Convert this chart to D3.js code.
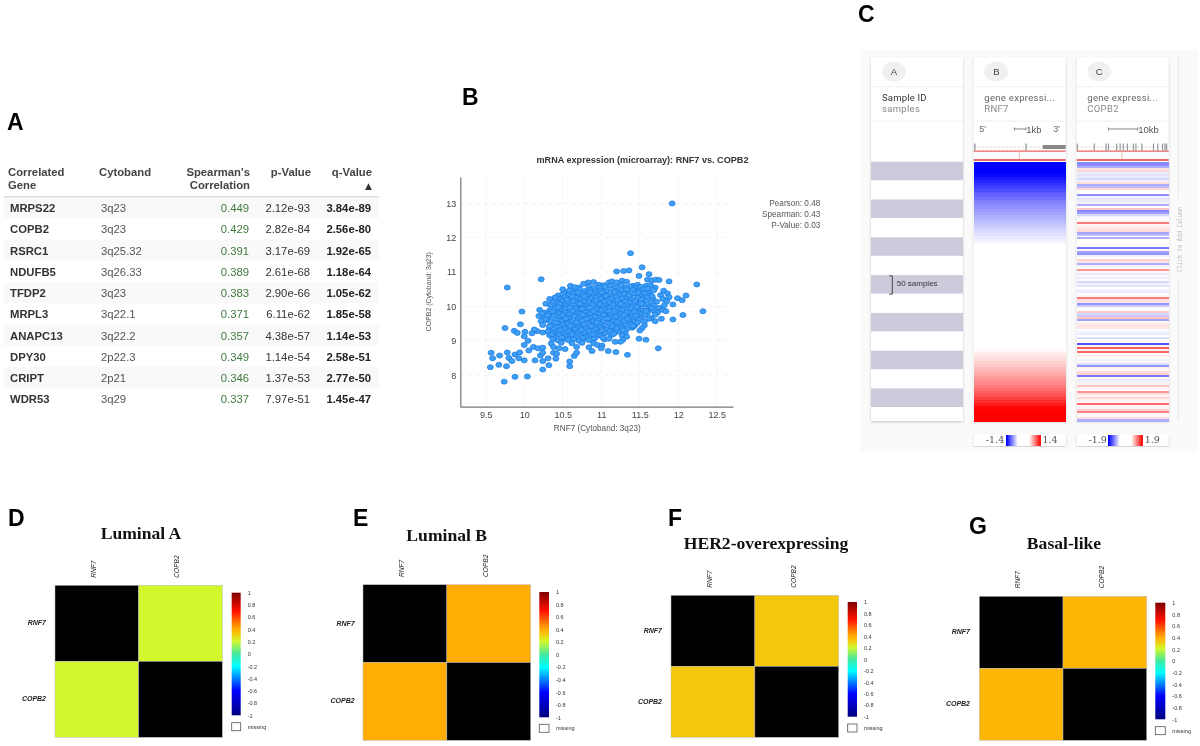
<!DOCTYPE html>
<html>
<head>
<meta charset="utf-8">
<script src="https://cdn.jsdelivr.net/npm/d3@7"></script>
<style>
  html, body { margin: 0; padding: 0; background: #fff; }
  svg { display: block; filter: blur(0.35px); }
  text { font-family: "Liberation Sans", Arial, sans-serif; }
</style>
</head>
<body>
<svg id="chart" width="1200" height="746"></svg>
<script>
// panel A table
const genes = ['MRPS22', 'COPB2', 'RSRC1', 'NDUFB5', 'TFDP2', 'MRPL3', 'ANAPC13', 'DPY30', 'CRIPT', 'WDR53'];
const cytobands = ['3q23', '3q23', '3q25.32', '3q26.33', '3q23', '3q22.1', '3q22.2', '2p22.3', '2p21', '3q29'];
const spearman = ['0.449', '0.429', '0.391', '0.389', '0.383', '0.371', '0.357', '0.349', '0.346', '0.337'];
const pValues = ['2.12e-93', '2.82e-84', '3.17e-69', '2.61e-68', '2.90e-66', '6.11e-62', '4.38e-57', '1.14e-54', '1.37e-53', '7.97e-51'];
const qValues = ['3.84e-89', '2.56e-80', '1.92e-65', '1.18e-64', '1.05e-62', '1.85e-58', '1.14e-53', '2.58e-51', '2.77e-50', '1.45e-47'];

// panel B scatter, RNF7 / COPB2
const stats = ['Pearson: 0.48', 'Spearman: 0.43', 'P-Value: 0.03'];
const xTicks = [9.5, 10, 10.5, 11, 11.5, 12, 12.5];
const yTicks = [8, 9, 10, 11, 12, 13];
const outlierPoints = [
  [11.92,13.0],[11.38,11.55],[11.53,11.14],[11.36,11.05],[11.29,11.03],[11.2,11.02],[11.62,10.94],[11.49,10.89],
  [10.22,10.79],[9.78,10.55],[12.24,10.64],[11.88,10.73],[12.1,10.32],[11.99,10.24],[12.05,10.18],[11.93,10.06],
  [12.32,9.86],[12.06,9.75],[11.93,9.62],[9.97,9.85],[9.95,9.48],[9.75,9.37],[9.87,9.29],[9.91,9.23],[10.01,9.26],
  [10.0,9.13],[10.05,9.0],[10.0,8.88],[10.06,8.72],[10.12,8.82],[9.57,8.65],[9.59,8.49],[9.68,8.57],[9.78,8.66],
  [9.56,8.23],[9.67,8.3],[9.77,8.26],[9.8,8.5],[9.84,8.41],[9.88,8.6],[9.94,8.66],[9.93,8.49],[10.0,8.43],[10.14,8.43],
  [9.88,7.95],[10.04,7.96],[9.74,7.81],[10.24,8.16],[10.32,8.29],[10.24,8.41],[10.31,8.49],[10.41,8.48],[10.59,8.26],
  [10.59,8.4],[10.65,8.56],[10.68,8.65],[10.21,8.57],[10.24,8.65],[10.38,8.65],[10.42,8.62],[10.18,8.78],[10.24,8.8],
  [10.38,8.82],[10.45,8.78],[10.53,8.76],[10.68,8.82],[10.84,8.81],[10.88,8.7],[11.0,8.78],[11.09,8.7],[11.19,8.67],
  [11.34,8.59],[11.74,8.78],[11.49,9.06],[11.58,9.03],[11.25,8.97],[11.18,8.97],[10.17,9.28],[10.1,9.22],[10.13,9.33],
  [10.19,9.72],[10.23,9.8],[10.28,10.08],[10.33,10.22],[10.5,10.5],[10.6,10.6],[10.66,10.56]
];
const densePoints = [
  [10.83,10.7],[10.9,10.71],[10.97,10.63],[11.03,10.62],[11.1,10.7],[11.14,10.73],[11.2,10.7],[11.27,10.75],[11.33,10.72],[11.41,10.6],[11.47,10.63],[11.6,10.78],[11.66,10.76],[11.71,10.78],[11.75,10.77],
  [10.71,10.55],[10.77,10.66],[10.84,10.58],[10.91,10.54],[10.98,10.55],[11.05,10.58],[11.12,10.6],[11.19,10.56],[11.26,10.62],[11.32,10.55],[11.38,10.58],[11.44,10.54],[11.51,10.57],[11.58,10.6],[11.64,10.62],[11.7,10.55],
  [10.53,10.42],[10.59,10.47],[10.66,10.44],[10.72,10.5],[10.79,10.45],[10.85,10.48],[10.92,10.43],[10.99,10.47],[11.06,10.44],[11.13,10.49],[11.2,10.45],[11.27,10.47],[11.34,10.42],[11.41,10.48],[11.48,10.45],[11.55,10.5],[11.62,10.44],[11.68,10.47],[11.81,10.46],
  [10.44,10.32],[10.5,10.36],[10.57,10.33],[10.63,10.38],[10.7,10.32],[10.76,10.36],[10.83,10.34],[10.89,10.37],[10.96,10.32],[11.03,10.36],[11.09,10.33],[11.16,10.38],[11.23,10.34],[11.3,10.36],[11.37,10.31],[11.44,10.37],[11.5,10.34],[11.57,10.38],[11.64,10.32],[11.77,10.33],[11.86,10.38],
  [10.4,10.26],[10.47,10.22],[10.53,10.27],[10.6,10.23],[10.67,10.26],[10.73,10.21],[10.8,10.26],[10.87,10.23],[10.93,10.27],[11.0,10.22],[11.07,10.25],[11.14,10.22],[11.2,10.27],[11.27,10.23],[11.34,10.26],[11.4,10.21],[11.47,10.26],[11.54,10.23],[11.6,10.27],[11.67,10.22],[11.8,10.22],[11.88,10.27],
  [10.37,10.15],[10.44,10.11],[10.5,10.16],[10.57,10.12],[10.64,10.15],[10.7,10.1],[10.77,10.15],[10.84,10.12],[10.91,10.16],[10.97,10.11],[11.04,10.14],[11.11,10.1],[11.18,10.16],[11.25,10.12],[11.31,10.15],[11.38,10.11],[11.44,10.15],[11.51,10.12],[11.58,10.16],[11.65,10.11],[11.72,10.14],[11.85,10.15],
  [10.34,10.04],[10.41,10.0],[10.48,10.05],[10.54,10.01],[10.61,10.04],[10.68,9.99],[10.75,10.04],[10.81,10.01],[10.88,10.05],[10.95,10.0],[11.01,10.03],[11.08,9.99],[11.15,10.05],[11.22,10.01],[11.28,10.04],[11.35,10.0],[11.42,10.04],[11.48,10.01],[11.55,10.05],[11.62,10.0],[11.68,10.03],[11.82,10.04],[11.75,9.96],
  [10.2,9.9],[10.33,9.89],[10.4,9.94],[10.47,9.9],[10.53,9.93],[10.6,9.88],[10.67,9.93],[10.73,9.9],[10.8,9.94],[10.87,9.89],[10.94,9.92],[11.0,9.88],[11.07,9.94],[11.14,9.9],[11.21,9.93],[11.27,9.89],[11.34,9.93],[11.41,9.9],[11.47,9.94],[11.54,9.89],[11.61,9.92],[11.68,9.88],[11.8,9.9],[11.84,9.86],
  [10.26,9.82],[10.33,9.78],[10.39,9.83],[10.46,9.79],[10.53,9.82],[10.59,9.77],[10.66,9.82],[10.73,9.79],[10.79,9.83],[10.86,9.78],[10.93,9.81],[10.99,9.77],[11.06,9.83],[11.13,9.79],[11.2,9.82],[11.26,9.78],[11.33,9.82],[11.4,9.79],[11.46,9.83],[11.53,9.78],[11.6,9.81],[11.73,9.82],
  [10.25,9.71],[10.31,9.67],[10.38,9.72],[10.45,9.68],[10.51,9.71],[10.58,9.66],[10.65,9.71],[10.71,9.68],[10.78,9.72],[10.85,9.67],[10.92,9.7],[10.98,9.66],[11.05,9.72],[11.12,9.68],[11.19,9.71],[11.25,9.67],[11.32,9.71],[11.39,9.68],[11.45,9.72],[11.52,9.67],[11.65,9.66],[11.78,9.64],
  [10.22,9.57],[10.29,9.6],[10.35,9.56],[10.42,9.61],[10.49,9.57],[10.55,9.6],[10.62,9.55],[10.69,9.6],[10.75,9.57],[10.82,9.61],[10.89,9.56],[10.96,9.59],[11.02,9.55],[11.09,9.61],[11.16,9.57],[11.23,9.6],[11.29,9.56],[11.36,9.6],[11.43,9.57],[11.49,9.61],[11.56,9.56],[11.7,9.57],
  [10.24,9.46],[10.37,9.45],[10.44,9.5],[10.5,9.46],[10.57,9.49],[10.64,9.44],[10.7,9.49],[10.77,9.46],[10.84,9.5],[10.91,9.45],[10.97,9.48],[11.04,9.44],[11.11,9.5],[11.17,9.46],[11.24,9.49],[11.31,9.45],[11.38,9.49],[11.44,9.46],[11.56,9.45],
  [10.33,9.38],[10.39,9.34],[10.46,9.39],[10.53,9.35],[10.59,9.38],[10.66,9.33],[10.73,9.38],[10.79,9.35],[10.86,9.39],[10.93,9.34],[11.0,9.37],[11.06,9.33],[11.13,9.39],[11.2,9.35],[11.27,9.38],[11.33,9.34],[11.4,9.38],[11.53,9.37],
  [10.24,9.24],[10.31,9.27],[10.38,9.23],[10.44,9.28],[10.51,9.24],[10.58,9.27],[10.64,9.22],[10.71,9.27],[10.78,9.24],[10.84,9.28],[10.91,9.23],[10.98,9.26],[11.05,9.22],[11.11,9.28],[11.18,9.24],[11.25,9.27],[11.31,9.23],[11.5,9.3],
  [10.33,9.16],[10.39,9.12],[10.46,9.17],[10.53,9.13],[10.6,9.16],[10.66,9.11],[10.73,9.16],[10.8,9.13],[10.86,9.17],[10.93,9.12],[11.0,9.15],[11.13,9.17],[11.27,9.16],[11.33,9.12],
  [10.37,9.05],[10.44,9.01],[10.51,9.06],[10.57,9.02],[10.64,9.05],[10.71,9.0],[10.77,9.05],[10.84,9.02],[10.91,9.06],[11.04,9.04],[11.1,9.06],[11.28,9.03],
  [10.35,8.92],[10.48,8.94],[10.62,8.93],[10.75,8.94],[10.9,8.93],[10.95,8.88],[11.01,8.86]
];
// middle of the cloud, where the dots overlap most
const corePoints = [
  [10.62,10.29],[10.78,10.3],[10.93,10.18],[11.06,10.31],[11.21,10.19],[11.36,10.33],[11.52,10.19],[11.66,10.3],
  [10.46,10.07],[10.59,9.97],[10.72,10.08],[10.85,9.96],[10.98,10.07],[11.11,9.96],[11.25,10.08],[11.39,9.96],[11.52,10.08],[11.65,9.96],
  [10.37,9.86],[10.5,9.75],[10.63,9.87],[10.76,9.76],[10.9,9.86],[11.03,9.75],[11.17,9.86],[11.3,9.75],[11.43,9.86],[11.57,9.75],
  [10.28,9.64],[10.41,9.53],[10.54,9.65],[10.68,9.54],[10.81,9.64],[10.94,9.53],[11.08,9.65],[11.21,9.54],[11.34,9.64],[11.47,9.53],
  [10.33,9.43],[10.47,9.31],[10.6,9.43],[10.74,9.32],[10.87,9.43],[11.01,9.31],[11.14,9.43],[11.28,9.31],[11.42,9.42],
  [10.36,9.19],[10.49,9.09],[10.62,9.19],[10.76,9.09],[10.89,9.19],[11.02,9.09],[11.16,9.2],
  [10.55,10.2],[10.7,10.41],[10.86,10.42],[11.01,10.41],[11.17,10.42],[11.33,10.5],[11.48,10.4],[11.6,10.52],
  [10.44,9.98],[10.3,9.74],[10.75,9.93],[11.1,9.87],[11.46,9.99],[11.58,9.87],[11.7,9.76],[11.62,9.64],[11.41,9.44]
];

// panel C heat columns, top row first
const rnf7Rows = [
  -1.4,-1.4,-1.4,-1.4,-1.35,-1.28,-1.2,-1.12,-1.05,-.98,-.9,-.84,-.78,-.7,-.65,-.6,-.55,-.5,-.45,-.4,-.35,-.3,-.25,-.2,-.16,-.12,-.08,-.03,
  0,0,0,0,0,0,0,0,0,0,0,0,0,0,0,0,0,0,0,0,0,0,0,0,0,0,0,0,0,0,0,0,0,0,0,
  .04,.1,.15,.2,.25,.3,.36,.42,.48,.54,.6,.66,.72,.8,.88,.96,1.05,1.14,1.25,1.36,1.4,1.4,1.4,1.4
];
const copb2Rows = [
  -.9,-.85,-.6,.2,.3,-.15,-.2,-.15,-.3,-.1,.25,-.6,-.5,.3,0,0,-.85,-.1,-.2,-.15,-.1,-.6,0,.45,-.9,-.7,-.3,-.1,0,.05,1.0,.1,
  .15,.2,.3,-.7,-.5,0,-.6,0,0,0,0,-1,.1,-.7,-.8,-.1,0,.35,.2,-.6,-.1,0,.8,.05,-.15,.05,-.15,0,-.3,-.1,-.2,0,
  -.1,-.15,0,.05,1.0,.25,.2,-.8,-.4,.05,0,.4,-.3,-.4,.45,-.7,.05,.15,.2,.2,0,-.1,-.15,0,-.25,0,.05,-1.3,.1,1.2,.15,1.1,
  .05,.15,0,-.1,.05,-.25,-.8,.1,.05,.25,.35,-1,.05,-.15,-.1,.1,.4,.1,0,.8,.2,.1,.3,.1,.05,1.1,.05,.1,.35,.9,.05,.05,.25,-.6
];
// exon positions along each gene, kb
const rnf7Exons = [[.05,.15],[4.5,4.6],[6.0,8.0]];
const copb2Exons = [.2,6.1,10.2,11,13.9,15.1,16.2,17.6,19.7,20.6,22.7,26.7,28.2,29.9,30.7,31.3];

// panels D-G, correlation of RNF7 and COPB2 per subtype
const subtypes = ['Luminal A', 'Luminal B', 'HER2-overexpressing', 'Basal-like'];
const subtypeCorr = [0.21, 0.41, 0.33, 0.37];
const heatLabels = ['RNF7', 'COPB2'];
const barTicks = [1, 0.8, 0.6, 0.4, 0.2, 0, -0.2, -0.4, -0.6, -0.8, -1];
const corrStops = [-1, -.6, -.2, 0, .21, .33, .37, .41, .7, 1];
const corrColors = ['#00007f', '#0000ff', '#00ffff', '#40e8a0', '#d2f72d', '#f4c70c', '#fdb603', '#ffac04', '#ff1000', '#7f0000'];

const svg = d3.select('#chart');
const defs = svg.append('defs');
defs.append('filter').attr('id', 'cardShadow').attr('x', '-5%').attr('y', '-5%').attr('width', '110%').attr('height', '110%')
  .append('feDropShadow').attr('dx', 0).attr('dy', 1).attr('stdDeviation', 1.2).attr('flood-color', '#000').attr('flood-opacity', 0.22);

// panel letters
const panelLetters = [['A', 7, 130], ['B', 462, 105], ['C', 858, 22], ['D', 8, 526], ['E', 353, 526], ['F', 668, 526], ['G', 969, 534]];
svg.selectAll('.letter').data(panelLetters).join('text').attr('class', 'letter')
  .attr('x', d => d[1]).attr('y', d => d[2]).text(d => d[0])
  .attr('font-size', 23).attr('font-weight', 'bold').attr('fill', '#000');

/* ---- A ---- */
const tableG = svg.append('g');
const rowY = d3.scaleBand().domain(genes).range([197, 409.6]);
tableG.selectAll('.stripe').data(genes.filter((d, i) => i % 2 === 0)).join('rect')
  .attr('x', 4).attr('width', 375).attr('y', d => rowY(d)).attr('height', rowY.bandwidth()).attr('fill', '#f9f9f9');
tableG.append('rect').attr('x', 4).attr('y', 196).attr('width', 375).attr('height', 1.5).attr('fill', '#dcdcdc');

const headers = [
  ['Correlated', 8, 176, 'start'], ['Gene', 8, 189, 'start'], ['Cytoband', 99, 176, 'start'],
  ["Spearman's", 250, 176, 'end'], ['Correlation', 250, 189, 'end'], ['p-Value', 311, 176, 'end'], ['q-Value', 372, 176, 'end']
];
tableG.selectAll('.head').data(headers).join('text')
  .attr('x', d => d[1]).attr('y', d => d[2]).attr('text-anchor', d => d[3]).text(d => d[0])
  .attr('font-size', 11.3).attr('font-weight', 'bold').attr('fill', '#444');
tableG.append('text').attr('x', 372).attr('y', 189).attr('text-anchor', 'end').text('▲')
  .attr('font-size', 9).attr('fill', '#333').style('font-family', 'DejaVu Sans');

const tableCols = [
  { vals: genes, x: 10, anchor: 'start', weight: 'bold', fill: '#333' },
  { vals: cytobands, x: 101, anchor: 'start', weight: 'normal', fill: '#555' },
  { vals: spearman, x: 249, anchor: 'end', weight: 'normal', fill: '#3f7a3f' },
  { vals: pValues, x: 310, anchor: 'end', weight: 'normal', fill: '#333' },
  { vals: qValues, x: 371, anchor: 'end', weight: 'bold', fill: '#222' }
];
tableCols.forEach(col => {
  tableG.selectAll(null).data(col.vals).join('text')
    .attr('x', col.x).attr('y', (d, i) => rowY(genes[i]) + 15)
    .attr('text-anchor', col.anchor).attr('font-weight', col.weight).attr('fill', col.fill)
    .attr('font-size', 11.3).text(d => d);
});

/* ---- B ---- */
const x = d3.scaleLinear().domain([9.17, 12.71]).range([460.3, 733]);
const y = d3.scaleLinear().domain([7.08, 13.77]).range([406.7, 177]);
const scatter = svg.append('g');
scatter.selectAll('.gx').data(xTicks).join('line')
  .attr('x1', d => x(d)).attr('x2', d => x(d)).attr('y1', 177).attr('y2', 406.7)
  .attr('stroke', '#f1f1f1').attr('stroke-dasharray', '4,4');
scatter.selectAll('.gy').data(yTicks).join('line')
  .attr('x1', 460.3).attr('x2', 733).attr('y1', d => y(d)).attr('y2', d => y(d))
  .attr('stroke', '#f1f1f1').attr('stroke-dasharray', '4,4');

scatter.append('g').attr('transform', 'translate(0,406.7)')
  .call(d3.axisBottom(x).tickValues(xTicks).tickSize(0).tickPadding(5).tickFormat(String))
  .call(g => g.select('.domain').attr('stroke', '#777').attr('stroke-width', 1.2))
  .call(g => g.selectAll('text').attr('font-size', 9).attr('fill', '#444').style('font-family', 'Liberation Sans'));
scatter.append('g').attr('transform', 'translate(460.3,0)')
  .call(d3.axisLeft(y).tickValues(yTicks).tickSize(0).tickPadding(4).tickFormat(String))
  .call(g => g.select('.domain').attr('stroke', '#777').attr('stroke-width', 1.2))
  .call(g => g.selectAll('text').attr('font-size', 9).attr('fill', '#444').style('font-family', 'Liberation Sans'));

scatter.selectAll('.dot').data(densePoints.concat(corePoints, outlierPoints)).join('ellipse')
  .attr('cx', d => x(d[0])).attr('cy', d => y(d[1])).attr('rx', 3).attr('ry', 2.5)
  .attr('fill', '#3f9ff5').attr('stroke', '#1c7ce4').attr('stroke-width', 0.8);

scatter.append('text').attr('x', 642.5).attr('y', 163.3).attr('text-anchor', 'middle')
  .attr('font-size', 9.1).attr('font-weight', 'bold').attr('fill', '#333')
  .text('mRNA expression (microarray): RNF7 vs. COPB2');
scatter.append('text').attr('x', 597.3).attr('y', 430.7).attr('text-anchor', 'middle')
  .attr('font-size', 8.2).attr('fill', '#555').text('RNF7 (Cytoband: 3q23)');
scatter.append('text').attr('transform', 'translate(430.7,291.7) rotate(-90)').attr('text-anchor', 'middle')
  .attr('font-size', 7.5).attr('textLength', 79).attr('lengthAdjust', 'spacingAndGlyphs').attr('fill', '#555').text('COPB2 (Cytoband: 3q23)');
scatter.selectAll('.stat').data(stats).join('text')
  .attr('x', 820.3).attr('y', (d, i) => 206 + i * 10.8).attr('text-anchor', 'end')
  .attr('font-size', 8.2).attr('fill', '#555').text(d => d);

/* ---- C ---- */
const browser = svg.append('g');
browser.append('rect').attr('x', 860).attr('y', 50).attr('width', 338).attr('height', 402).attr('fill', '#fafafa');
const cards = [
  { x: 871, letter: 'A', t1: 'Sample ID', t2: 'samples', cx: 894 },
  { x: 973.7, letter: 'B', t1: 'gene expressi...', t2: 'RNF7', cx: 996.3 },
  { x: 1076.7, letter: 'C', t1: 'gene expressi...', t2: 'COPB2', cx: 1099.3 }
];
const cardW = 92;
cards.forEach((c, i) => {
  browser.append('rect').attr('x', c.x).attr('y', 57.3).attr('width', cardW).attr('height', 363.7)
    .attr('fill', '#fff').attr('filter', 'url(#cardShadow)');
  browser.append('ellipse').attr('cx', c.cx).attr('cy', 71.7).attr('rx', 12).attr('ry', 10).attr('fill', '#f0f0f0');
  browser.append('text').attr('x', c.cx).attr('y', 75).attr('text-anchor', 'middle').attr('font-size', 9.5).attr('fill', '#444').text(c.letter);
  browser.append('rect').attr('x', c.x).attr('y', 86.2).attr('width', cardW).attr('height', 1).attr('fill', '#f0f0f0');
  browser.append('rect').attr('x', c.x).attr('y', 120.6).attr('width', cardW).attr('height', 1).attr('fill', '#f0f0f0');
  const tx = c.x + (i === 0 ? 11 : 10.6);
  browser.append('text').attr('x', tx).attr('y', 100.7).attr('font-size', 9.5).attr('letter-spacing', i ? 0.3 : 0.2)
    .attr('fill', i ? '#666' : '#333').style('font-family', 'Roboto').text(c.t1);
  browser.append('text').attr('x', tx).attr('y', 111.7).attr('font-size', 9.5).attr('letter-spacing', 0.3)
    .attr('fill', '#888').style('font-family', 'Roboto').text(c.t2);
});

// sample stripes in column A
const sampleY = d3.scaleLinear().domain([0, 50]).range([161.7, 180.6]);
const stripeStarts = [0, 100, 200, 300, 400, 500, 600];
browser.selectAll('.sampleStripe').data(stripeStarts).join('rect')
  .attr('x', 871).attr('width', cardW).attr('y', d => sampleY(d)).attr('height', sampleY(50) - sampleY(0) - .4).attr('fill', '#cccbdc');
browser.append('path').attr('d', 'M889.3,275.9H892.3V294.1H889.3').attr('fill', 'none').attr('stroke', '#444').attr('stroke-width', 1);
browser.append('text').attr('x', 896.7).attr('y', 286).attr('font-size', 8).attr('fill', '#333').text('50 samples');

// heat columns
function heatColumn(rows, colX, limit) {
  const rowBand = d3.scaleBand().domain(d3.range(rows.length)).range([161.7, 421]);
  const colour = d3.scaleLinear().domain([-limit, 0, limit]).range(['#0000ff', '#ffffff', '#ff0000']).clamp(true);
  browser.append('g').attr('shape-rendering', 'crispEdges').selectAll('rect').data(rows).join('rect')
    .attr('x', colX).attr('width', cardW).attr('y', (d, i) => rowBand(i)).attr('height', rowBand.bandwidth() + 1)
    .attr('fill', d => colour(d));
}
heatColumn(rnf7Rows, 973.7, 1.4);
heatColumn(copb2Rows, 1076.7, 1.9);

// gene tracks
function trackBase(colX, midX) {
  browser.append('line').attr('x1', colX).attr('x2', colX + cardW).attr('y1', 147).attr('y2', 147).attr('stroke', '#bbb').attr('stroke-dasharray', '2,2').attr('stroke-width', .7);
  browser.append('rect').attr('x', colX).attr('y', 150.6).attr('width', cardW).attr('height', 1).attr('fill', '#e23b3b');
  browser.append('rect').attr('x', midX - .4).attr('y', 151).attr('width', .8).attr('height', 8).attr('fill', '#f2a0a0');
  browser.append('rect').attr('x', colX).attr('y', 159).attr('width', cardW).attr('height', 2).attr('fill', '#e86a6a');
}
trackBase(973.7, 1019.3);
trackBase(1076.7, 1122);
const kbB = d3.scaleLinear().domain([0, 8]).range([973.7, 1065.7]);
const kbC = d3.scaleLinear().domain([0, 32]).range([1076.7, 1168.7]);
browser.selectAll('.exonB').data(rnf7Exons).join('rect')
  .attr('x', d => kbB(d[0])).attr('width', d => kbB(d[1]) - kbB(d[0]))
  .attr('y', d => d[1] - d[0] > 1 ? 145 : 143.5).attr('height', d => d[1] - d[0] > 1 ? 4 : 7).attr('fill', '#888');
browser.selectAll('.exonC').data(copb2Exons).join('line')
  .attr('x1', d => kbC(d)).attr('x2', d => kbC(d)).attr('y1', 143.5).attr('y2', 150.5)
  .attr('stroke', '#777').attr('stroke-width', 0.9);

browser.append('text').attr('x', 982.7).attr('y', 132).attr('text-anchor', 'middle').attr('font-size', 9).attr('fill', '#666').text("5'");
browser.append('text').attr('x', 1056.7).attr('y', 132).attr('text-anchor', 'middle').attr('font-size', 9).attr('fill', '#666').text("3'");
function scaleBar(x1, x2, label) {
  browser.append('path').attr('d', `M${x1},127.5V130.5M${x1},129H${x2}M${x2},127.5V130.5`).attr('stroke', '#666').attr('stroke-width', .8).attr('fill', 'none');
  browser.append('text').attr('x', x2 + .5).attr('y', 132.5).attr('font-size', 9.5).attr('fill', '#555').text(label);
}
scaleBar(kbB(3.54), kbB(4.53), '1kb');
scaleBar(kbC(11.1), kbC(21.2), '10kb');

// legends under the heat columns
function heatLegend(boxX, limit, gradX, gradW) {
  browser.append('rect').attr('x', boxX).attr('y', 434).attr('width', cardW).attr('height', 12).attr('fill', '#fff').attr('filter', 'url(#cardShadow)');
  const pos = d3.scaleLinear().domain([-limit, limit]).range([gradX, gradX + gradW]);
  const colour = d3.scaleLinear().domain([-limit, -limit / 3, limit / 3, limit]).range(['#0000ff', '#ffffff', '#ffffff', '#ff0000']);
  const steps = d3.range(-limit, limit, limit / 17);
  browser.append('g').attr('shape-rendering', 'crispEdges').selectAll('rect').data(steps).join('rect')
    .attr('x', d => pos(d)).attr('width', gradW / 34 + 1).attr('y', 434.5).attr('height', 11).attr('fill', d => colour(d));
  browser.append('text').attr('x', gradX - 1.5).attr('y', 442.5).attr('text-anchor', 'end').attr('font-size', 9.5)
    .attr('fill', '#555').style('font-family', 'DejaVu Serif').text('-' + limit.toFixed(1));
  browser.append('text').attr('x', gradX + gradW + 2.5).attr('y', 442.5).attr('font-size', 9.5)
    .attr('fill', '#555').style('font-family', 'DejaVu Serif').text(limit.toFixed(1));
}
heatLegend(973.7, 1.4, 1005.7, 34.3);
heatLegend(1076.7, 1.9, 1108.3, 34);

// add-column strip
browser.append('line').attr('x1', 1178.3).attr('x2', 1178.3).attr('y1', 57).attr('y2', 198).attr('stroke', '#e6e6e6');
browser.append('line').attr('x1', 1178.3).attr('x2', 1178.3).attr('y1', 281).attr('y2', 421).attr('stroke', '#e6e6e6');
browser.append('text').attr('transform', 'translate(1181.5,272) rotate(-90)').attr('font-size', 7)
  .attr('textLength', 65).attr('lengthAdjust', 'spacingAndGlyphs')
  .attr('fill', '#bbb').style('font-family', 'DejaVu Sans Mono').text('Click to Add Column');

/* ---- D-G ---- */
const corrColour = d3.scaleLinear().domain(corrStops).range(corrColors);
const heatPanels = [
  { x0: 55, x1: 222.3, y0: 585.3, y1: 737.3, titleX: 141, titleY: 539, barX: 231.7, barW: 9, barY0: 592.7, barY1: 715.3, missY: 722.7, topY: 577.7, leftEnd: 46 },
  { x0: 363, x1: 530.7, y0: 584.7, y1: 740.3, titleX: 446.7, titleY: 541.3, barX: 539.3, barW: 9.7, barY0: 592, barY1: 717.3, missY: 724.3, topY: 577, leftEnd: 354.7 },
  { x0: 671, x1: 838.7, y0: 595.3, y1: 737.3, titleX: 766, titleY: 549, barX: 847.7, barW: 9.3, barY0: 602, barY1: 716.7, missY: 724, topY: 587.7, leftEnd: 662 },
  { x0: 979.3, x1: 1146.7, y0: 596.3, y1: 740.3, titleX: 1064, titleY: 549.3, barX: 1155.3, barW: 10, barY0: 602.7, barY1: 719.3, missY: 726.7, topY: 588.3, leftEnd: 970 }
];

// one vertical gradient for all four colour bars, from the same stops
const barGrad = defs.append('linearGradient').attr('id', 'corrBar').attr('x1', 0).attr('x2', 0).attr('y1', 1).attr('y2', 0);
barGrad.selectAll('stop').data(corrStops).join('stop')
  .attr('offset', d => (d + 1) / 2).attr('stop-color', (d, i) => corrColors[i]);

heatPanels.forEach((p, pi) => {
  const g = svg.append('g');
  const cx = d3.scaleBand().domain(heatLabels).range([p.x0, p.x1]);
  const cy = d3.scaleBand().domain(heatLabels).range([p.y0, p.y1]);
  const cells = d3.cross(heatLabels, heatLabels).map(([a, b]) => ({ a, b, v: a === b ? 1 : subtypeCorr[pi] }));
  // self correlation cells are printed black in the original
  g.selectAll('.cell').data(cells).join('rect')
    .attr('x', d => cx(d.a)).attr('y', d => cy(d.b)).attr('width', cx.bandwidth()).attr('height', cy.bandwidth())
    .attr('fill', d => d.v === 1 ? '#000' : corrColour(d.v)).attr('stroke', '#bbb').attr('stroke-width', 0.5);

  g.append('text').attr('x', p.titleX).attr('y', p.titleY).attr('text-anchor', 'middle')
    .attr('font-size', 17.6).attr('font-weight', 'bold').attr('fill', '#111')
    .style('font-family', '"Liberation Serif", "Times New Roman", serif').text(subtypes[pi]);

  g.selectAll('.topLab').data(heatLabels).join('text')
    .attr('transform', d => `translate(${cx(d) + cx.bandwidth() / 2 - 1},${p.topY}) rotate(-90)`)
    .attr('font-size', 6.6).attr('font-style', 'italic').attr('fill', '#222').text(d => d);
  g.selectAll('.leftLab').data(heatLabels).join('text')
    .attr('x', p.leftEnd).attr('y', d => cy(d) + cy.bandwidth() / 2 + 2)
    .attr('text-anchor', 'end').attr('font-size', 7).attr('font-style', 'italic').attr('font-weight', 'bold')
    .attr('fill', '#222').text(d => d);

  const barScale = d3.scaleLinear().domain([-1, 1]).range([p.barY1, p.barY0]);
  g.append('rect').attr('x', p.barX).attr('width', p.barW).attr('y', barScale(1)).attr('height', barScale(-1) - barScale(1))
    .attr('fill', 'url(#corrBar)');
  g.append('g').attr('transform', `translate(${p.barX + p.barW},0)`)
    .call(d3.axisRight(barScale).tickValues(barTicks).tickSize(0).tickPadding(7).tickFormat(d => String(d)))
    .call(a => a.select('.domain').remove())
    .call(a => a.selectAll('text').attr('font-size', 5.5).attr('fill', '#333').style('font-family', 'Liberation Sans'));

  g.append('rect').attr('x', p.barX).attr('y', p.missY).attr('width', p.barW).attr('height', 8)
    .attr('fill', '#fff').attr('stroke', '#555').attr('stroke-width', 0.8);
  g.append('text').attr('x', p.barX + p.barW + 7).attr('y', p.missY + 6).attr('font-size', 5.5).attr('fill', '#333').text('missing');
});
</script>
</body>
</html>
